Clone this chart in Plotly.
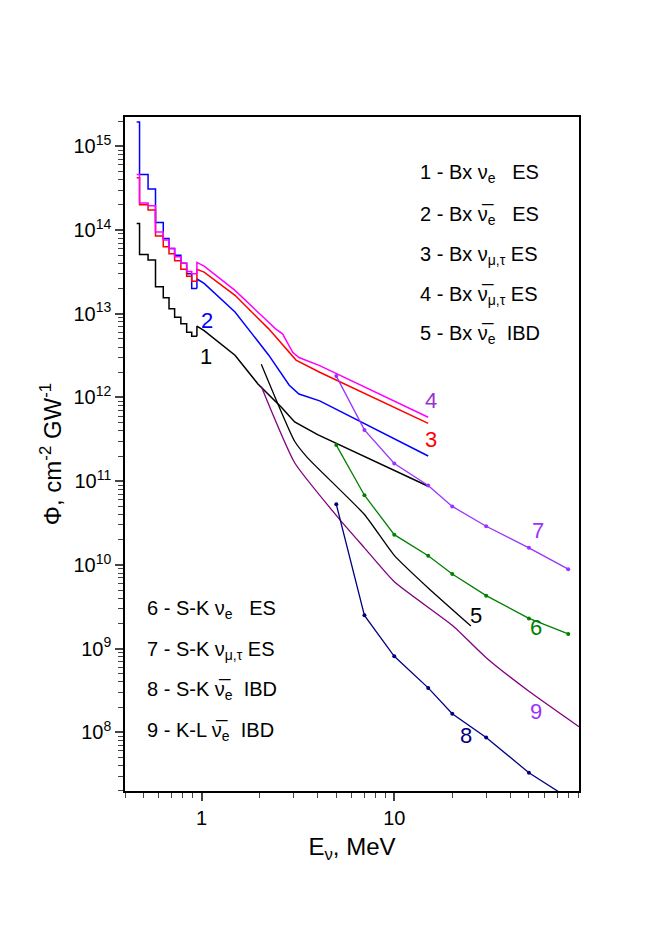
import numpy as np
import plotly.graph_objects as go

# histogram part (bin edges, MeV) and bin values for curves 1-4
bin_edges = [0.46, 0.476, 0.527, 0.576, 0.632, 0.677, 0.724, 0.78, 0.836, 0.888, 0.945]
h1 = [1.2e14, 5.1e13, 4.4e13, 2.1e13, 1.55e13, 1.15e13, 9.1e12, 7.6e12, 6.0e12, 5.4e12]
h2 = [1.95e15, 4.6e14, 3.1e14, 1.23e14, 7.9e13, 6e13, 5e13, 4e13, 3e13, 2e13]
h3 = [4.2e14, 2e14, 1.74e14, 8.5e13, 6.3e13, 5.2e13, 4.3e13, 3.4e13, 2.8e13, 2.45e13]
h4 = [4.6e14, 2.1e14, 1.95e14, 9.5e13, 7.6e13, 6e13, 4.8e13, 4e13, 3.2e13, 3e13]

# continuous part
e1 = [0.945, 1.03, 1.49, 1.96, 2.6, 3.04, 4.0, 15]
c1 = [7.1e12, 6.3e12, 3.2e12, 1.45e12, 7.6e11, 5.1e11, 3.6e11, 8.7e10]
e2 = [0.945, 1.03, 1.49, 2.23, 2.85, 3.2, 4.1, 15]
c2 = [2.6e13, 2.3e13, 1.05e13, 3.2e12, 1.4e12, 1.1e12, 9.1e11, 2.0e11]
e3 = [0.945, 1.03, 1.49, 2.23, 2.85, 3.09, 4.1, 15]
c3 = [3.4e13, 3.15e13, 1.66e13, 6.6e12, 3.5e12, 2.8e12, 2.0e12, 4.9e11]
e4 = [0.945, 1.03, 1.49, 2.0, 2.42, 2.63, 2.97, 3.2, 4.1, 15]
c4 = [4.1e13, 3.7e13, 1.9e13, 1.0e13, 6.6e12, 5.75e12, 3.47e12, 3.0e12, 2.4e12, 5.8e11]

e5 = [2.04, 3.04, 3.55, 7, 10, 15, 25]
c5 = [2.5e12, 3.0e11, 1.9e11, 4.0e10, 1.3e10, 5.3e9, 1.86e9]

e_sk = [5, 7, 10, 15, 20, 30, 50, 80]
c6 = [2.7e11, 6.8e10, 2.3e10, 1.29e10, 7.8e9, 4.3e9, 2.3e9, 1.5e9]
c7 = [1.8e12, 4.1e11, 1.63e11, 8.9e10, 5.0e10, 2.9e10, 1.6e10, 8.9e9]
c8 = [5.3e10, 2.5e9, 8.1e8, 3.4e8, 1.67e8, 8.7e7, 3.3e7, 1.65e7]

e9 = [2.04, 3.04, 5.15, 7, 10, 20, 30, 50, 91]
c9 = [1.35e12, 1.66e11, 3.6e10, 1.6e10, 6.3e9, 1.9e9, 7.8e8, 3.1e8, 1.17e8]

FONT = "Liberation Sans, Arial, sans-serif"
fig = go.Figure()

for h, e, c, col in [(h1, e1, c1, "black"), (h2, e2, c2, "#0000FF"),
                     (h3, e3, c3, "#FF0000"), (h4, e4, c4, "#FF00FF")]:
    fig.add_trace(go.Scatter(x=bin_edges, y=h + [h[-1]], mode="lines",
                             line=dict(color=col, width=1.5, shape="hv")))
    fig.add_trace(go.Scatter(x=[e[0]] + e, y=[h[-1]] + c, mode="lines",
                             line=dict(color=col, width=1.5)))

fig.add_trace(go.Scatter(x=e5, y=c5, mode="lines",
                         line=dict(color="black", width=1.3, shape="spline", smoothing=0.5)))
fig.add_trace(go.Scatter(x=e9, y=c9, mode="lines",
                         line=dict(color="#800080", width=1.3, shape="spline", smoothing=0.5)))
for c, col in [(c6, "#008000"), (c7, "#9933FF"), (c8, "#000080")]:
    fig.add_trace(go.Scatter(x=e_sk, y=c, mode="lines+markers",
                             line=dict(color=col, width=1.3), marker=dict(color=col, size=4)))

labels = [("2", 0.163, 0.72, "#0000FF"), ("1", 0.16, 0.645, "black"),
          ("4", 0.692, 0.579, "#9933CC"), ("3", 0.692, 0.521, "#FF0000"),
          ("7", 0.927, 0.386, "#9933FF"), ("5", 0.791, 0.239, "black"),
          ("6", 0.923, 0.221, "#008000"), ("9", 0.923, 0.096, "#9933FF"),
          ("8", 0.769, 0.061, "#000080")]
for t, x, y, col in labels:
    fig.add_annotation(text=t, x=x, y=y, xref="paper", yref="paper", showarrow=False,
                       font=dict(size=22, color=col, family=FONT))

nb = "ν\u0305"
leg1 = ["1 - Bx ν<sub>e</sub>   ES", "2 - Bx " + nb + "<sub>e</sub>   ES",
        "3 - Bx ν<sub>μ,τ</sub> ES", "4 - Bx " + nb + "<sub>μ,τ</sub> ES",
        "5 - Bx " + nb + "<sub>e</sub>  IBD"]
ys1 = [0.937, 0.876, 0.816, 0.757, 0.699]
for t, y in zip(leg1, ys1):
    fig.add_annotation(text=t, x=0.645, y=y, xref="paper", yref="paper", showarrow=False,
                       xanchor="left", font=dict(size=20, color="black", family=FONT))
leg2 = ["6 - S-K ν<sub>e</sub>   ES", "7 - S-K ν<sub>μ,τ</sub> ES",
        "8 - S-K " + nb + "<sub>e</sub>  IBD", "9 - K-L " + nb + "<sub>e</sub>  IBD"]
ys2 = [0.248, 0.187, 0.128, 0.067]
for t, y in zip(leg2, ys2):
    fig.add_annotation(text=t, x=0.044, y=y, xref="paper", yref="paper", showarrow=False,
                       xanchor="left", font=dict(size=20, color="black", family=FONT))

xminor = [v * m for m in (0.1, 1, 10) for v in range(2, 10)]
yminor = [v * 10.0 ** k for k in range(7, 16) for v in range(2, 10)]
fig.update_layout(
    width=664, height=940, showlegend=False,
    paper_bgcolor="white", plot_bgcolor="white",
    margin=dict(l=117, r=93, t=109, b=157),
    font=dict(family=FONT, size=20, color="black"),
    xaxis=dict(type="log", range=[np.log10(0.4), np.log10(91)], showgrid=False,
               showline=True, linecolor="black", linewidth=1.5, mirror=True,
               ticks="outside", ticklen=8, tickwidth=1.5, tickvals=[1, 10], ticktext=["1", "10"],
               minor=dict(tickvals=xminor, ticks="outside", ticklen=5, tickwidth=1.2),
               title=dict(text="E<sub>ν</sub>, MeV", standoff=10)),
    yaxis=dict(type="log", range=[7.3, 15.35], showgrid=False,
               showline=True, linecolor="black", linewidth=1.5, mirror=True,
               ticks="outside", ticklen=8, tickwidth=1.5,
               tickvals=[10.0 ** k for k in range(8, 16)],
               ticktext=["10<sup>%d</sup>" % k for k in range(8, 16)],
               minor=dict(tickvals=yminor, ticks="outside", ticklen=5, tickwidth=1.2),
               title=dict(text="Φ, cm<sup>-2</sup> GW<sup>-1</sup>", standoff=5)),
)
fig.write_html("out.html")
